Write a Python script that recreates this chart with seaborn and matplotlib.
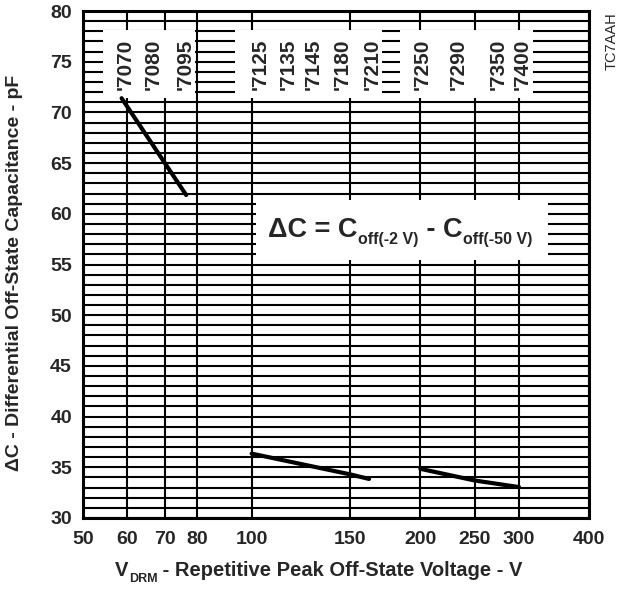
import pandas as pd
import matplotlib
matplotlib.use('Agg')
import matplotlib.pyplot as plt
import seaborn as sns
from matplotlib.patches import Rectangle
from matplotlib.ticker import FixedLocator, FixedFormatter, NullLocator, MultipleLocator

# curve segments: V_DRM (V) vs delta C (pF)
seg_a_v = [58.6, 76.4]
seg_a_c = [71.4, 61.85]
seg_b_v = [100, 150, 162]
seg_b_c = [36.35, 34.3, 33.85]
seg_c_v = [200, 250, 300]
seg_c_c = [34.85, 33.7, 33.05]

x_ticks = [50, 60, 70, 80, 100, 150, 200, 250, 300, 400]
y_ticks = list(range(30, 81, 5))

part_names = ["'7070", "'7080", "'7095", "'7125", "'7135", "'7145",
              "'7180", "'7210", "'7250", "'7290", "'7350", "'7400"]
part_v = [59.4, 66.7, 76.0, 103.5, 116.1, 128.6, 144.9, 164.0, 201.3, 233.4, 275.1, 303.6]

df = pd.DataFrame({
    'V': seg_a_v + seg_b_v + seg_c_v,
    'C': seg_a_c + seg_b_c + seg_c_c,
    'seg': ['a'] * len(seg_a_v) + ['b'] * len(seg_b_v) + ['c'] * len(seg_c_v),
})

sns.set_style('white')
plt.rcParams['font.family'] = ['Liberation Sans', 'DejaVu Sans']

fig = plt.figure(figsize=(6.29, 5.89), dpi=100)
ax = fig.add_axes([83 / 629, 1 - 518 / 589, 506 / 629, 507 / 589])

sns.lineplot(data=df, x='V', y='C', units='seg', estimator=None, sort=False,
             color='black', lw=3, ax=ax, zorder=2)
ax.set_xlabel('')
ax.set_ylabel('')

ax.set_xscale('log')
ax.set_xlim(50, 400)
ax.set_ylim(30, 80)

# grid: every pF horizontally, listed voltages vertically
ax.xaxis.set_major_locator(FixedLocator(x_ticks))
ax.xaxis.set_major_formatter(FixedFormatter([str(v) for v in x_ticks]))
ax.xaxis.set_minor_locator(NullLocator())
ax.yaxis.set_major_locator(FixedLocator(y_ticks))
ax.yaxis.set_minor_locator(MultipleLocator(1))
ax.grid(which='major', axis='x', color='black', lw=1.5)
ax.grid(which='both', axis='y', color='black', lw=1.5)
ax.set_axisbelow(True)
ax.tick_params(which='both', length=0)
ax.tick_params(axis='y', pad=8, labelsize=14)
ax.tick_params(axis='x', pad=9, labelsize=14)
for lab in ax.get_xticklabels() + ax.get_yticklabels():
    lab.set_fontweight('bold')
for sp in ax.spines.values():
    sp.set_linewidth(2.2)
    sp.set_color('black')

# white panels behind the device labels and the formula
for x0, x1, y0, y1 in [(54.3, 79.3, 71.45, 78.1), (93.4, 171.0, 71.45, 78.1),
                       (184.0, 318.0, 71.45, 78.1), (102.0, 338.0, 55.4, 61.4)]:
    ax.add_patch(Rectangle((x0, y0), x1 - x0, y1 - y0, facecolor='white',
                           edgecolor='none', zorder=1))

for name, v in zip(part_names, part_v):
    ax.text(v, 74.7, name, rotation=90, ha='center', va='center',
            fontsize=15, fontweight='bold', zorder=3)

# formula, built piece by piece so the subscripts stay small
big = dict(fontsize=19.5, fontweight='bold', zorder=3)
small = dict(fontsize=11.5, fontweight='bold', zorder=3)
t1 = ax.text(107.0, 57.75, 'ΔC = C', ha='left', va='baseline', **big)
t2 = ax.annotate('off(-2 V)', xy=(1, 0), xycoords=t1, xytext=(0.5, -0.8),
                 textcoords='offset points', ha='left', va='baseline', **small)
t3 = ax.annotate(' - C', xy=(1, 0), xycoords=(t2, t1), ha='left',
                 va='bottom', **big)
ax.annotate('off(-50 V)', xy=(1, 0), xycoords=(t3, t1), xytext=(0.5, -0.8),
            textcoords='offset points', ha='left', va='baseline', **small)

# x label with the DRM subscript
xl = fig.text(115 / 629, 1 - 576 / 589, 'V', ha='left', va='baseline',
              fontsize=14.5, fontweight='bold')
xs = ax.annotate('DRM', xy=(1, 0), xycoords=xl, xytext=(0.3, -1.5),
                 textcoords='offset points', ha='left', va='baseline',
                 fontsize=9, fontweight='bold', annotation_clip=False)
ax.annotate(' - Repetitive Peak Off-State Voltage - V', xy=(1, 0),
            xycoords=(xs, xl), ha='left', va='bottom', fontsize=14.5,
            fontweight='bold', annotation_clip=False)

fig.text(15 / 629, 1 - 273 / 589, 'ΔC - Differential Off-State Capacitance - pF',
         rotation=90, ha='center', va='center', fontsize=14, fontweight='bold')

fig.text(612 / 629, 1 - 41 / 589, 'TC7AAH', rotation=90, ha='center',
         va='center', fontsize=10.5)

fig.savefig('out.png', dpi=100)
